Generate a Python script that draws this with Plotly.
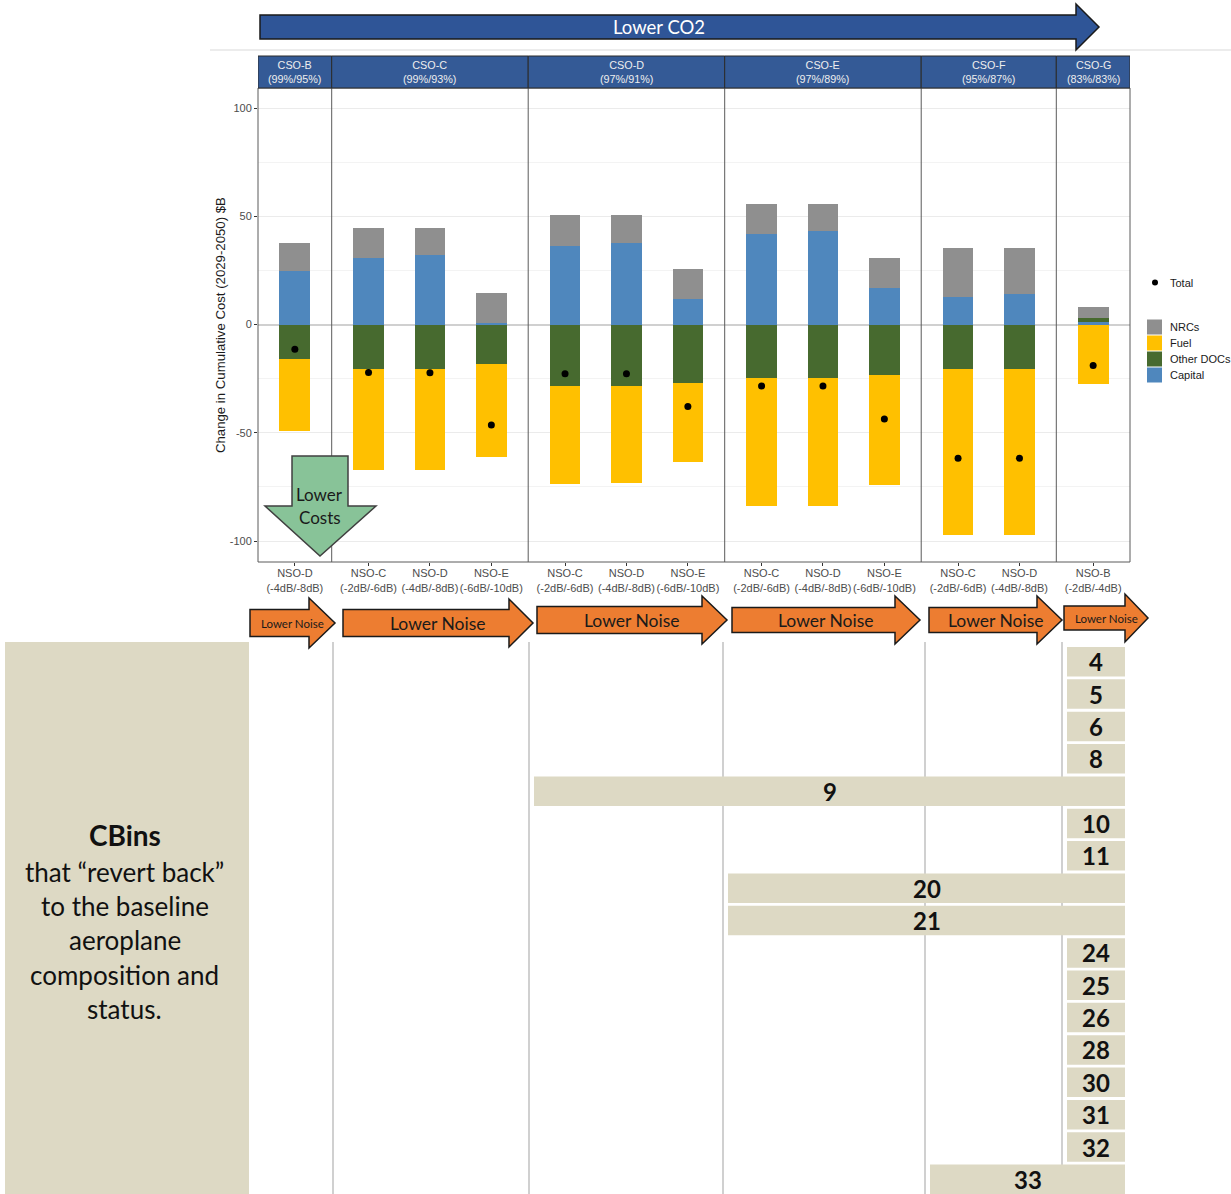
import plotly.graph_objects as go

# ---------------- data ----------------
cso_groups = ["CSO-B", "CSO-C", "CSO-D", "CSO-E", "CSO-F", "CSO-G"]
cso_shares = ["(99%/95%)", "(99%/93%)", "(97%/91%)", "(97%/89%)", "(95%/87%)", "(83%/83%)"]
nso_by_group = [
    ["NSO-D"],
    ["NSO-C", "NSO-D", "NSO-E"],
    ["NSO-C", "NSO-D", "NSO-E"],
    ["NSO-C", "NSO-D", "NSO-E"],
    ["NSO-C", "NSO-D"],
    ["NSO-B"],
]
nso_db = {"NSO-B": "(-2dB/-4dB)", "NSO-C": "(-2dB/-6dB)",
          "NSO-D": "(-4dB/-8dB)", "NSO-E": "(-6dB/-10dB)"}

# cost components, $B, one value per (CSO, NSO) bar in reading order
capital    = [24.7, 30.9, 32.1, 0.8, 36.4, 37.8, 11.9, 41.7, 43.1, 17.1, 12.8, 14.2, 1.1]
other_docs = [-15.9, -20.5, -20.4, -18.1, -28.5, -28.4, -27.0, -24.7, -24.7, -23.1, -20.5, -20.5, 2.0]
fuel       = [-33.5, -46.6, -46.7, -42.9, -45.1, -45.0, -36.7, -59.1, -59.1, -51.1, -76.7, -76.7, -27.3]
nrcs       = [13.1, 13.9, 12.7, 13.7, 14.4, 13.0, 13.9, 13.9, 12.5, 13.6, 22.7, 21.3, 5.2]
total      = [-11.4, -22.2, -22.3, -46.4, -22.7, -22.7, -37.8, -28.4, -28.4, -43.6, -61.8, -61.8, -18.9]

# CBins and the first CSO option from which each reverts to baseline
cbins = [4, 5, 6, 8, 9, 10, 11, 20, 21, 24, 25, 26, 28, 30, 31, 32, 33]
revert_from = ["CSO-G", "CSO-G", "CSO-G", "CSO-G", "CSO-D", "CSO-G", "CSO-G",
               "CSO-E", "CSO-E", "CSO-G", "CSO-G", "CSO-G", "CSO-G", "CSO-G",
               "CSO-G", "CSO-G", "CSO-F"]

# ---------------- styling ----------------
W, H = 1231, 1194
FONT = "Arial, Liberation Sans, sans-serif"
DECO_FONT = "Lato, Open Sans, sans-serif"
COL = {"Capital": "#4F87BD", "Other DOCs": "#476A2F", "Fuel": "#FFC000", "NRCs": "#8F8F8F"}
BLUE = "#2F5597"
STRIP = "#345A96"
ORANGE = "#ED7D31"
GREEN = "#88C398"
BEIGE = "#DDD9C4"


def px(x):
    return x / W


def py(y):
    return 1 - y / H


def label(x, y, text, size, color="#111111", family=DECO_FONT, xanchor="center",
          xref="paper", **kw):
    return dict(xref=xref, yref="paper", x=x, y=y, text=text, showarrow=False,
                xanchor=xanchor, yanchor="middle",
                font=dict(family=family, size=size, color=color), **kw)


# panel layout: each facet is (n bars + 0.2) units wide, bars at 0.6, 1.6, ...
x_pos, tick_text, panel_edges = [], [], [0.0]
for grp in nso_by_group:
    start = panel_edges[-1]
    for i, nso in enumerate(grp):
        x_pos.append(start + 0.6 + i)
        tick_text.append(f"{nso}<br>{nso_db[nso]}")
    panel_edges.append(start + len(grp) + 0.2)
x_max = panel_edges[-1]

PLOT_L, PLOT_R, PLOT_T, PLOT_B = 258, 1130, 88, 562

fig = go.Figure()
for name, vals in [("Capital", capital), ("Other DOCs", other_docs),
                   ("Fuel", fuel), ("NRCs", nrcs)]:
    fig.add_trace(go.Bar(x=x_pos, y=vals, name=name, width=0.5,
                         marker=dict(color=COL[name], line=dict(width=0)),
                         showlegend=False))
fig.add_trace(go.Scatter(x=x_pos, y=total, mode="markers", name="Total",
                         marker=dict(color="black", size=7), showlegend=False))

shapes, annotations = [], []

# facet borders and strips
shapes.append(dict(type="rect", xref="paper", yref="paper",
                   x0=px(PLOT_L), x1=px(PLOT_R), y0=py(PLOT_B), y1=py(PLOT_T),
                   line=dict(color="#5a5a5a", width=1)))
for e in panel_edges[1:-1]:
    shapes.append(dict(type="line", xref="x", yref="paper", x0=e, x1=e,
                       y0=py(PLOT_B), y1=py(PLOT_T), line=dict(color="#5a5a5a", width=1)))
for g, (name, share) in enumerate(zip(cso_groups, cso_shares)):
    x0, x1 = panel_edges[g], panel_edges[g + 1]
    shapes.append(dict(type="rect", xref="x", yref="paper", x0=x0, x1=x1,
                       y0=py(88), y1=py(56), fillcolor=STRIP,
                       line=dict(color="#2b2b2b", width=1)))
    annotations.append(label((x0 + x1) / 2, py(72), f"{name}<br>{share}", 10.8,
                             color="#eeeeee", family=FONT, xref="x"))

# thin rule under the CO2 banner
shapes.append(dict(type="line", xref="paper", yref="paper", x0=px(210), x1=1,
                   y0=py(50), y1=py(50), line=dict(color="#d9d9d9", width=1)))


def right_arrow(x0, xh, xt, yc, hb, hh, fill):
    pts = [(x0, yc - hb), (xh, yc - hb), (xh, yc - hh), (xt, yc),
           (xh, yc + hh), (xh, yc + hb), (x0, yc + hb)]
    path = "M " + " L ".join(f"{px(a):.5f},{py(b):.5f}" for a, b in pts) + " Z"
    return dict(type="path", xref="paper", yref="paper", path=path,
                fillcolor=fill, line=dict(color="#1a1a1a", width=1.5))


# Lower CO2 banner
shapes.append(right_arrow(260, 1076, 1099, 27, 12, 23, BLUE))
annotations.append(label(px(659), py(27), "Lower CO2", 18.5, color="white"))

# Lower Noise arrows under each facet
noise_arrows = [
    (250, 309, 335, 623, 13.5, 25, 11.5),
    (343, 509, 533, 623, 13.5, 24, 17.5),
    (537, 702, 727, 620, 13.5, 24, 17.5),
    (732, 895, 920, 620, 12.5, 24, 17.5),
    (929, 1037, 1062, 620, 12.5, 24, 17.5),
    (1064, 1125, 1148, 618, 12, 24, 11.5),
]
for x0, xh, xt, yc, hb, hh, fs in noise_arrows:
    shapes.append(right_arrow(x0, xh, xt, yc, hb, hh, ORANGE))
    annotations.append(label(px((x0 + xt) / 2), py(yc), "Lower Noise", fs, color="#1a1a1a"))

# Lower Costs arrow
dpts = [(292, 456), (348, 456), (348, 506), (376, 506), (320, 556),
        (265, 506), (292, 506)]
shapes.append(dict(type="path", xref="paper", yref="paper",
                   path="M " + " L ".join(f"{px(a):.5f},{py(b):.5f}" for a, b in dpts) + " Z",
                   fillcolor=GREEN, line=dict(color="#404040", width=1.5)))
for txt, yy in [("Lower", 495), ("Costs", 517)]:
    annotations.append(label(px(320), py(yy), txt, 17, color="#1a1a1a"))

# CBins panel
shapes.append(dict(type="rect", xref="paper", yref="paper", x0=px(5), x1=px(249),
                   y0=py(1194), y1=py(642), fillcolor=BEIGE, line=dict(width=0)))
annotations.append(label(px(125), py(835), "<b>CBins</b>", 28))
for txt, yy in [("that \u201crevert back\u201d", 872), ("to the baseline", 906),
                ("aeroplane", 940), ("composition and", 975), ("status.", 1009)]:
    annotations.append(label(px(125), py(yy), txt, 26))

# lane separators under the facets (CSO-C .. CSO-G)
lane_edges_px = [333, 529, 723, 925, 1062]
for xe in lane_edges_px:
    shapes.append(dict(type="line", xref="paper", yref="paper", x0=px(xe), x1=px(xe),
                       y0=py(1194), y1=py(642), line=dict(color="#c0c0c0", width=1.5)))
lane_start = dict(zip(cso_groups[1:], lane_edges_px))

# CBin bars, running from the reverting CSO to the right end
ROW0, ROW_STEP, ROW_H, BIN_R = 647, 32.35, 29.5, 1125
for i, (b, g) in enumerate(zip(cbins, revert_from)):
    top = ROW0 + i * ROW_STEP
    left = lane_start[g] + 5
    shapes.append(dict(type="rect", xref="paper", yref="paper", x0=px(left), x1=px(BIN_R),
                       y0=py(top + ROW_H), y1=py(top), fillcolor=BEIGE, line=dict(width=0)))
    annotations.append(label(px((left + BIN_R) / 2), py(top + ROW_H / 2), f"<b>{b}</b>", 24))

# legend
shapes.append(dict(type="circle", xref="paper", yref="paper", x0=px(1152), x1=px(1158),
                   y0=py(285.5), y1=py(279.5), fillcolor="black", line=dict(width=0)))
annotations.append(label(px(1168), py(282.5), "Total", 11, color="#1a1a1a",
                         family=FONT, xanchor="left"))
for k, name in enumerate(["NRCs", "Fuel", "Other DOCs", "Capital"]):
    top = 319.5 + k * 16
    shapes.append(dict(type="rect", xref="paper", yref="paper", x0=px(1147), x1=px(1162),
                       y0=py(top + 15), y1=py(top), fillcolor=COL[name], line=dict(width=0)))
    annotations.append(label(px(1168), py(top + 7.5), name, 11, color="#1a1a1a",
                             family=FONT, xanchor="left"))

# y-axis title
annotations.append(label(px(221), py(325), "Change in Cumulative Cost (2029-2050) $B", 13.2,
                         color="#1a1a1a", family=FONT, textangle=-90))

fig.update_layout(
    width=W, height=H, margin=dict(l=0, r=0, t=0, b=0),
    paper_bgcolor="white", plot_bgcolor="white",
    barmode="relative", bargap=0, showlegend=False,
    shapes=shapes, annotations=annotations,
    xaxis=dict(domain=[px(PLOT_L), px(PLOT_R)], range=[0, x_max],
               tickvals=x_pos, ticktext=tick_text, tickangle=0,
               showgrid=False, zeroline=False,
               showline=False, ticks="outside", ticklen=3, tickcolor="#333333",
               ticklabelstandoff=-2,
               tickfont=dict(family=FONT, size=11, color="#4d4d4d")),
    yaxis=dict(domain=[py(PLOT_B), py(PLOT_T)], range=[-109.7, 109.3],
               tickvals=[-100, -50, 0, 50, 100], ticktext=["-100", "-50", "0", "50", "100"],
               showgrid=True, gridcolor="#ebebeb", gridwidth=1,
               minor=dict(tickvals=[-75, -25, 25, 75], showgrid=True,
                          gridcolor="#f3f3f3", gridwidth=0.6, ticks=""),
               zeroline=True, zerolinecolor="#d0d0d0", zerolinewidth=1.5,
               showline=False, ticks="outside", ticklen=3, tickcolor="#333333",
               tickfont=dict(family=FONT, size=11, color="#4d4d4d")),
)

fig.write_html("out.html")
